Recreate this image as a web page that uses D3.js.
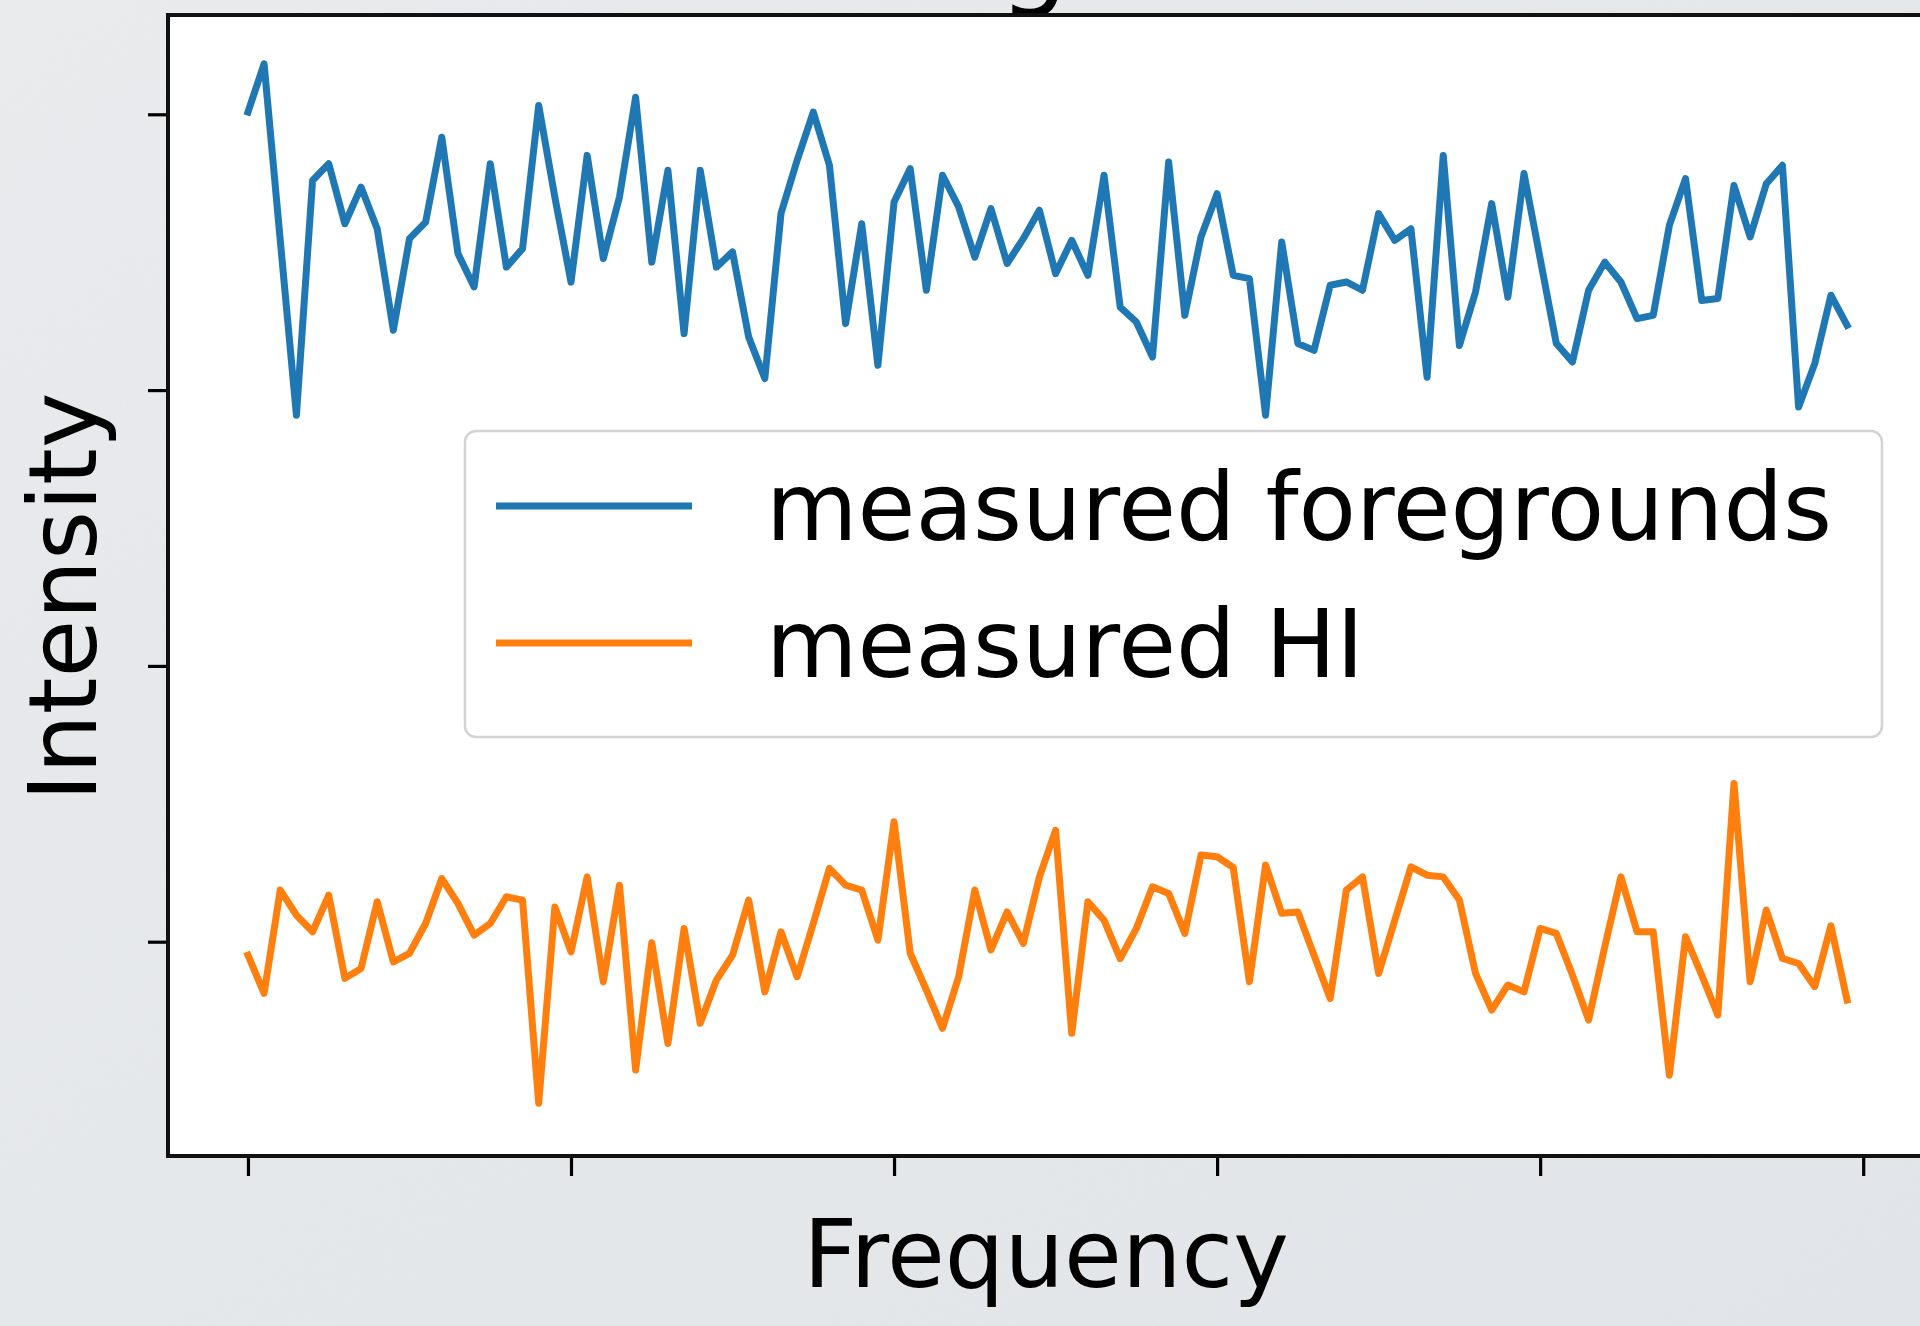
<!DOCTYPE html>
<html>
<head>
<meta charset="utf-8">
<script src="https://cdn.jsdelivr.net/npm/d3@7"></script>
<style>
  html, body { margin: 0; padding: 0; background: #e5e8eb; }
  svg { display: block; }
</style>
</head>
<body>
<svg id="chart" width="1920" height="1326"></svg>
<script>
// Channel index along the frequency axis
const channels = d3.range(100);

// Measured foreground spectrum (arbitrary intensity units)
const foregrounds = [
  3.008, 3.183, 2.543, 1.909, 2.760, 2.821, 2.603, 2.736, 2.585, 2.217,
  2.549, 2.609, 2.917, 2.495, 2.374, 2.821, 2.446, 2.513, 3.032, 2.700,
  2.392, 2.851, 2.477, 2.700, 3.062, 2.464, 2.797, 2.205, 2.797, 2.446,
  2.501, 2.192, 2.042, 2.640, 2.833, 3.008, 2.815, 2.241, 2.603, 2.090,
  2.682, 2.803, 2.362, 2.779, 2.664, 2.482, 2.658, 2.459, 2.549, 2.652,
  2.422, 2.543, 2.416, 2.779, 2.301, 2.247, 2.120, 2.827, 2.271, 2.555,
  2.712, 2.416, 2.404, 1.909, 2.537, 2.169, 2.144, 2.380, 2.392, 2.362,
  2.640, 2.543, 2.585, 2.047, 2.851, 2.162, 2.356, 2.676, 2.337, 2.785,
  2.477, 2.169, 2.102, 2.362, 2.464, 2.392, 2.259, 2.271, 2.597, 2.767,
  2.325, 2.332, 2.742, 2.555, 2.748, 2.815, 1.939, 2.096, 2.344, 2.235
];

// Measured HI spectrum (same units)
const hiSignal = [
  -0.049, -0.187, 0.187, 0.096, 0.036, 0.169, -0.133, -0.097, 0.145, -0.073,
  -0.042, 0.066, 0.229, 0.139, 0.024, 0.066, 0.163, 0.151, -0.586, 0.126,
  -0.037, 0.235, -0.145, 0.205, -0.465, -0.004, -0.369, 0.048, -0.296, -0.139,
  -0.049, 0.151, -0.182, 0.036, -0.127, 0.066, 0.266, 0.205, 0.187, 0.006,
  0.435, -0.042, -0.175, -0.314, -0.127, 0.187, -0.030, 0.108, -0.006, 0.235,
  0.404, -0.332, 0.145, 0.078, -0.061, 0.048, 0.199, 0.175, 0.030, 0.314,
  0.308, 0.269, -0.145, 0.278, 0.103, 0.108, -0.049, -0.206, 0.187, 0.235,
  -0.115, 0.078, 0.271, 0.241, 0.235, 0.151, -0.115, -0.248, -0.157, -0.182,
  0.048, 0.030, -0.121, -0.284, -0.018, 0.235, 0.036, 0.036, -0.484, 0.018,
  -0.121, -0.266, 0.574, -0.145, 0.115, -0.061, -0.079, -0.163, 0.058, -0.212
];

const seriesNames = ["measured foregrounds", "measured HI"];
const seriesColors = ["#1f77b4", "#ff7f0e"];
const xTicks = [0, 20, 40, 60, 80, 100];
const yTicks = [0, 1, 2, 3];
const xDomain = [-4.95, 103.95];
const yDomain = [-0.777, 3.36];
const xLabel = "Frequency";
const yLabel = "Intensity";
const titleText = "Signal";

const svg = d3.select("#chart");
const W = 1920, H = 1326;
const plot = { left: 168, right: 1927, top: 15, bottom: 1156 };
const FONT = "'DejaVu Sans', Verdana, sans-serif";
const FS = 94;

// Grey background with fine grain
const defs = svg.append("defs");
const grain = defs.append("filter").attr("id", "grain")
  .attr("x", 0).attr("y", 0).attr("width", "100%").attr("height", "100%");
grain.append("feTurbulence").attr("type", "fractalNoise")
  .attr("baseFrequency", 0.85).attr("numOctaves", 2).attr("seed", 3);
grain.append("feColorMatrix").attr("type", "matrix")
  .attr("values", "0 0 0 0 0.5  0 0 0 0 0.5  0 0 0 0 0.52  0 0 0 0.5 0");
const bgGrad = defs.append("linearGradient").attr("id", "bgGrad")
  .attr("x1", 0).attr("y1", 0).attr("x2", 1).attr("y2", 1);
bgGrad.append("stop").attr("offset", 0).attr("stop-color", "#eaecee");
bgGrad.append("stop").attr("offset", 1).attr("stop-color", "#e2e6ea");

svg.append("rect").attr("width", W).attr("height", H).attr("fill", "url(#bgGrad)");
svg.append("rect").attr("width", W).attr("height", H)
  .attr("filter", "url(#grain)").attr("opacity", 0.12);

const x = d3.scaleLinear().domain(xDomain).range([plot.left, plot.right]);
const y = d3.scaleLinear().domain(yDomain).range([plot.bottom, plot.top]);

// Axes background
svg.append("rect")
  .attr("x", plot.left).attr("y", plot.top)
  .attr("width", plot.right - plot.left).attr("height", plot.bottom - plot.top)
  .attr("fill", "#ffffff");

// Title (sits mostly above the visible area)
svg.append("text")
  .attr("x", (plot.left + plot.right) / 2 + 20).attr("y", -6)
  .attr("text-anchor", "middle")
  .attr("font-family", FONT).attr("font-size", 110)
  .attr("fill", "#000")
  .text(titleText);

// Data lines
const line = d3.line().x((d, i) => x(channels[i])).y(d => y(d));
const seriesData = [foregrounds, hiSignal];
svg.append("g").selectAll("path").data(seriesData).join("path")
  .attr("d", d => line(d))
  .attr("fill", "none")
  .attr("stroke", (d, i) => seriesColors[i])
  .attr("stroke-width", 7)
  .attr("stroke-linejoin", "round")
  .attr("stroke-linecap", "square");

// Axes with hidden tick labels
const xAxis = d3.axisBottom(x).tickValues(xTicks).tickFormat("").tickSize(20).tickSizeOuter(0);
const yAxis = d3.axisLeft(y).tickValues(yTicks).tickFormat("").tickSize(20).tickSizeOuter(0);

const gx = svg.append("g").attr("transform", `translate(0,${plot.bottom})`).call(xAxis);
const gy = svg.append("g").attr("transform", `translate(${plot.left},0)`).call(yAxis);
[gx, gy].forEach(g => {
  g.select(".domain").remove();
  g.selectAll(".tick line").attr("stroke", "#000").attr("stroke-width", 3.2);
});

// Spines
svg.append("rect")
  .attr("x", plot.left).attr("y", plot.top)
  .attr("width", plot.right - plot.left).attr("height", plot.bottom - plot.top)
  .attr("fill", "none").attr("stroke", "#111").attr("stroke-width", 4);

// Axis labels
svg.append("text")
  .attr("x", 1046).attr("y", 1287)
  .attr("text-anchor", "middle")
  .attr("font-family", FONT).attr("font-size", FS)
  .attr("fill", "#000")
  .text(xLabel);

svg.append("text")
  .attr("transform", "translate(96,597) rotate(-90)")
  .attr("text-anchor", "middle")
  .attr("font-family", FONT).attr("font-size", FS)
  .attr("fill", "#000")
  .text(yLabel);

// Legend
const legend = { x: 465, y: 431, w: 1417, h: 306 };
const lg = svg.append("g");
lg.append("rect")
  .attr("x", legend.x).attr("y", legend.y)
  .attr("width", legend.w).attr("height", legend.h)
  .attr("rx", 11).attr("ry", 11)
  .attr("fill", "#ffffff").attr("fill-opacity", 0.85)
  .attr("stroke", "#d3d3d3").attr("stroke-width", 2.5);

const rowY = [506, 643];
const items = lg.selectAll("g.item").data(seriesNames).join("g").attr("class", "item");
items.append("line")
  .attr("x1", 496).attr("x2", 692)
  .attr("y1", (d, i) => rowY[i]).attr("y2", (d, i) => rowY[i])
  .attr("stroke", (d, i) => seriesColors[i])
  .attr("stroke-width", 7);
items.append("text")
  .attr("x", 766).attr("y", (d, i) => rowY[i] + 34)
  .attr("font-family", FONT).attr("font-size", FS)
  .attr("fill", "#000")
  .text(d => d);
</script>
</body>
</html>
